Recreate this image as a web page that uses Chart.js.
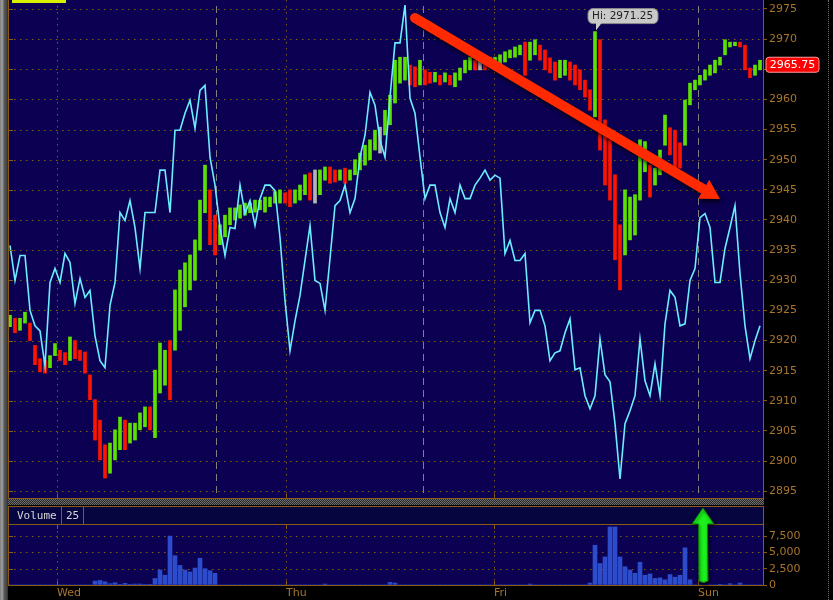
<!DOCTYPE html>
<html><head><meta charset="utf-8">
<script src="https://cdn.jsdelivr.net/npm/chart.js@4.4.1/dist/chart.umd.min.js"></script>
<style>
html,body{margin:0;padding:0;background:#000;width:833px;height:600px;overflow:hidden;}
#main{position:absolute;left:0;top:0;}
#vol{position:absolute;left:0;top:506px;}
#edge{position:absolute;left:0;top:0;width:8px;height:600px;background:linear-gradient(to right,#7c7c7c 0,#a0a0a0 2px,#8a8a8a 3px,#5a5a5a 4px,#4a4a4a 6px,#303030 8px);}
#sep{position:absolute;left:8px;top:499px;width:756px;height:6px;background:repeating-conic-gradient(#6a6a6a 0 25%,#2a2a2a 0 50%) 0 0/2px 2px;}
#rline{position:absolute;left:828px;top:0;height:600px;border-left:1px dotted #707070;}
</style></head>
<body>
<div id="edge"></div>
<div id="sep"></div>
<div id="rline"></div>
<canvas id="main" width="833" height="499"></canvas>
<canvas id="vol" width="833" height="94"></canvas>
<script>
// ---------- DATA ----------
const dayLabels = ['Wed', 'Thu', 'Fri', 'Sun'];
const dayPos = [9.4, 55.2, 96.8, 137.6];          // bar index of each day start
const sessionPos = [41.2, 82.6, 137.6];          // session breaks
const volumeTicks = [0, 2500, 5000, 7500];
const lastPrice = 2965.75;
const sessionHigh = 2971.25;

const highs = [
 2924.2,2923.7,2923.7,2924.7,2922.9,2919.2,2917.0,2916.7,2917.5,2919.5,
 2918.4,2918.0,2920.6,2920.0,2918.4,2918.1,2914.3,2910.2,2906.8,2902.7,
 2903.0,2905.2,2907.3,2906.8,2906.3,2906.3,2908.0,2909.0,2909.0,2915.1,
 2919.6,2918.4,2920.0,2928.4,2931.7,2932.9,2934.2,2936.7,2943.3,2949.1,
 2945.0,2940.8,2939.2,2940.8,2942.0,2942.0,2942.5,2942.8,2942.8,2943.3,
 2943.3,2943.8,2943.8,2944.7,2945.0,2944.5,2945.0,2945.0,2945.8,2947.5,
 2947.8,2948.3,2948.3,2948.8,2948.8,2948.3,2948.3,2948.6,2948.3,2950.0,
 2951.1,2952.4,2953.3,2954.9,2955.4,2958.2,2960.7,2966.5,2967.0,2967.0,
 2965.7,2965.4,2966.5,2964.9,2964.5,2964.5,2964.0,2964.4,2964.0,2964.4,
 2965.2,2966.5,2967.0,2966.5,2966.5,2966.2,2967.0,2967.0,2967.4,2967.9,
 2968.2,2968.7,2969.0,2969.5,2969.5,2969.9,2969.0,2968.2,2966.9,2966.2,
 2966.5,2966.5,2966.2,2965.7,2964.9,2963.2,2961.6,2971.25,2969.9,2956.6,
 2953.3,2947.5,2939.2,2945.0,2943.8,2944.2,2953.3,2953.0,2949.1,2948.6,
 2951.6,2957.4,2955.3,2954.9,2952.8,2959.9,2962.7,2963.2,2964.0,2964.9,
 2965.7,2966.5,2967.0,2969.9,2969.5,2969.5,2969.5,2969.0,2965.2,2965.7,2966.5
];
const lows = [
 2922.3,2921.3,2921.7,2922.9,2920.0,2916.0,2914.8,2914.6,2915.5,2917.5,
 2916.7,2916.0,2916.7,2917.0,2916.7,2914.6,2910.2,2903.5,2900.2,2897.2,
 2898.0,2900.2,2901.9,2901.9,2903.0,2903.5,2905.2,2905.7,2905.2,2903.9,
 2911.3,2912.6,2910.2,2918.4,2921.7,2925.6,2928.4,2930.0,2935.0,2941.2,
 2935.9,2934.2,2935.9,2937.2,2939.2,2940.0,2940.3,2940.8,2941.2,2941.3,
 2941.7,2941.3,2942.2,2942.8,2942.8,2942.8,2942.2,2942.8,2943.3,2944.2,
 2943.3,2942.8,2944.2,2946.6,2946.1,2946.3,2946.6,2946.1,2946.6,2947.5,
 2948.3,2949.1,2950.0,2951.6,2951.1,2954.1,2955.8,2959.4,2962.7,2963.2,
 2962.4,2962.1,2962.4,2962.4,2962.7,2962.9,2962.4,2962.9,2962.4,2962.1,
 2963.2,2964.4,2964.9,2964.9,2964.9,2964.9,2965.4,2965.5,2965.7,2966.2,
 2966.9,2967.0,2967.4,2964.0,2966.5,2967.4,2966.5,2964.9,2964.4,2963.2,
 2963.6,2964.0,2963.2,2962.4,2961.6,2960.4,2958.2,2957.1,2951.6,2945.8,
 2943.3,2933.4,2928.4,2934.2,2936.7,2937.5,2943.3,2948.0,2943.8,2945.8,
 2947.5,2952.4,2950.8,2948.3,2948.6,2952.4,2959.1,2961.6,2962.4,2963.2,
 2964.0,2964.4,2965.7,2967.4,2968.7,2968.9,2968.7,2964.9,2963.6,2964.0,2964.9
];
const oscillator = [
 50.8,43.8,48.8,48.8,37.8,34.7,33.7,26.7,43.4,46.2,
 43.4,49.2,47.4,39.2,44.2,40.4,41.8,32.7,27.7,26.3,
 38.8,43.4,57.4,55.8,59.8,54.4,46.2,57.4,57.4,57.4,
 65.9,65.9,57.4,73.9,73.9,77.3,79.9,74.3,81.9,82.9,
 68.5,62.9,54.4,48.8,54.4,54.2,62.9,57.2,59.8,54.8,
 60.2,62.9,62.9,61.8,52.4,39.8,29.7,35.7,40.8,47.8,
 54.8,43.8,43.2,37.8,48.2,58.8,59.8,62.9,57.4,60.2,
 68.5,72.9,81.5,78.9,71.9,68.5,80.5,91.4,91.4,99.0,
 80.3,77.3,68.5,60.2,62.9,62.9,57.4,54.4,60.2,57.4,
 62.9,60.2,60.2,62.9,64.3,65.9,63.9,64.9,64.3,49.2,
 51.8,47.8,47.8,49.2,35.3,37.8,37.8,34.7,27.7,29.3,
 29.7,33.3,36.1,25.9,26.3,20.7,18.1,20.7,32.1,24.9,
 23.5,15.1,4.0,15.1,17.7,20.7,32.1,23.7,20.7,27.1,
 20.7,35.1,41.8,40.4,34.7,35.1,43.8,46.2,56.4,57.2,
 54.4,43.4,43.4,50.2,54.4,58.8,45.2,34.7,28.1,31.7,34.7
];
const volume = [
 0,0,0,0,0,0,0,0,0,0,
 0,0,0,0,0,0,0,600,700,500,
 200,350,100,250,100,150,150,80,50,1000,
 2300,1500,7500,4500,3000,2300,2000,2600,4100,2500,
 2200,1800,0,0,0,0,0,0,0,0,
 0,0,0,0,0,0,0,0,0,0,
 0,0,0,150,0,0,0,0,0,0,
 0,0,0,0,0,0,400,300,0,0,
 0,0,0,0,0,0,0,0,0,0,
 0,0,0,0,0,0,0,0,0,0,
 0,0,0,0,150,0,0,0,0,0,
 0,0,0,0,0,0,300,6100,3300,4300,
 8900,8900,4300,2800,2300,1800,3500,1500,1700,1000,
 1100,800,1600,1200,1500,5700,800,0,0,0,
 0,0,100,0,200,0,300,0,0,0,0
];
const volumeTitle = 'Volume';
const volumeLength = '25';
const arrowFrom = {x: 81, y: 2973.5};
const arrowTo = {x: 142, y: 2943.5};
const upArrowX = 138.6;

// ---------- STYLE ----------
const NAVY = '#0b0052', HEADER = '#070540', BORDER = '#8a5a18', LABEL = '#a8742e', GRID = '#7c5a1c';
const UP = '#5ce000', DOWN = '#ff1400', FLAT = '#b4b4b4';
const FONT = {family: 'DejaVu Sans', size: 11};
const XMIN = -0.2, XMAX = 150.6;

const mids = highs.map((h, i) => (h + lows[i]) / 2);
const barColors = mids.map((m, i) => i === 0 ? UP : (m > mids[i - 1] ? UP : (m < mids[i - 1] ? DOWN : FLAT)));

function hline(ctx, x1, x2, y) { ctx.beginPath(); ctx.moveTo(x1, y); ctx.lineTo(x2, y); ctx.stroke(); }
function vline(ctx, x, y1, y2) { ctx.beginPath(); ctx.moveTo(x, y1); ctx.lineTo(x, y2); ctx.stroke(); }

const mainDecor = {
  id: 'mainDecor',
  beforeDraw(chart) {
    const {ctx, chartArea: a, scales: {x, y}} = chart;
    ctx.save();
    ctx.fillStyle = NAVY;
    ctx.fillRect(a.left, a.top, a.right - a.left, a.bottom - a.top);
    ctx.lineWidth = 1;
    ctx.strokeStyle = GRID;
    ctx.setLineDash([1.5, 4.5]);
    y.ticks.forEach(t => { const py = Math.round(y.getPixelForValue(t.value)) + 0.5; hline(ctx, a.left + 5, a.right, py); });
    dayPos.forEach((d, i) => { if (i === 3) return; const px = Math.round(x.getPixelForValue(d)) + 0.5; vline(ctx, px, a.top, a.bottom); });
    ctx.strokeStyle = '#808080';
    ctx.setLineDash([7, 5]);
    sessionPos.forEach(s => { const px = Math.round(x.getPixelForValue(s)) + 0.5; vline(ctx, px, a.top + 6, a.bottom); });
    ctx.restore();
  },
  afterDatasetsDraw(chart) {
    const {ctx, scales: {x, y}} = chart;
    const x1 = x.getPixelForValue(arrowFrom.x), y1 = y.getPixelForValue(arrowFrom.y);
    const x2 = x.getPixelForValue(arrowTo.x), y2 = y.getPixelForValue(arrowTo.y);
    const len = Math.hypot(x2 - x1, y2 - y1), ux = (x2 - x1) / len, uy = (y2 - y1) / len;
    const bx = x2 - ux * 19, by = y2 - uy * 19;
    ctx.save();
    ctx.shadowColor = 'rgba(0,0,0,0.75)'; ctx.shadowBlur = 4; ctx.shadowOffsetX = 2; ctx.shadowOffsetY = 3;
    ctx.strokeStyle = '#ff2a00'; ctx.lineWidth = 10; ctx.lineCap = 'round';
    ctx.beginPath(); ctx.moveTo(x1, y1); ctx.lineTo(bx + ux * 2, by + uy * 2); ctx.stroke();
    ctx.fillStyle = '#ff2a00';
    ctx.beginPath();
    ctx.moveTo(x2, y2);
    ctx.lineTo(bx - uy * 11, by + ux * 11);
    ctx.lineTo(bx + uy * 11, by - ux * 11);
    ctx.closePath(); ctx.fill();
    ctx.restore();
  },
  afterDraw(chart) {
    const {ctx, chartArea: a, scales: {x, y}} = chart;
    ctx.save();
    ctx.strokeStyle = BORDER; ctx.lineWidth = 1;
    vline(ctx, a.left - 0.5, 0, a.bottom);
    vline(ctx, a.right + 0.5, 0, a.bottom);
    hline(ctx, a.left - 1, a.right + 1, a.bottom - 0.5);
    y.ticks.forEach(t => { const py = Math.round(y.getPixelForValue(t.value)) + 0.5; hline(ctx, a.left, a.left + 4, py); });
    dayPos.forEach((d, i) => { if (i === 3) return; const px = Math.round(x.getPixelForValue(d)) + 0.5; vline(ctx, px, a.bottom - 5, a.bottom); });
    ctx.fillStyle = '#d6f000';
    ctx.fillRect(a.left + 3, 0, 54, 3);
    const iHi = highs.indexOf(Math.max(...highs));
    const px = x.getPixelForValue(iHi), py = y.getPixelForValue(highs[iHi]);
    const bl = px - 7, bt = py - 23, bw = 70, bh = 15;
    ctx.fillStyle = '#c9c9c9'; ctx.strokeStyle = '#8a8a8a';
    ctx.beginPath(); ctx.roundRect(bl, bt, bw, bh, 5); ctx.fill(); ctx.stroke();
    ctx.beginPath(); ctx.moveTo(px + 1, bt + bh - 1); ctx.lineTo(px + 7, bt + bh - 1); ctx.lineTo(px + 1, py - 1); ctx.closePath(); ctx.fill();
    ctx.fillStyle = '#1e1e1e'; ctx.font = '10.5px "DejaVu Sans"'; ctx.textBaseline = 'middle'; ctx.textAlign = 'left';
    ctx.fillText('Hi: ' + sessionHigh.toFixed(2), bl + 4, bt + bh / 2 + 0.5);
    const ly = y.getPixelForValue(lastPrice);
    ctx.fillStyle = '#ff0000'; ctx.strokeStyle = '#ff9a9a';
    ctx.beginPath(); ctx.roundRect(a.right + 3, ly - 7.5, 53, 15, 3); ctx.fill(); ctx.stroke();
    ctx.fillStyle = '#ffffff'; ctx.font = '11px "DejaVu Sans"'; ctx.textAlign = 'center';
    ctx.fillText(lastPrice.toFixed(2), a.right + 29.5, ly + 0.5);
    ctx.restore();
  }
};

new Chart(document.getElementById('main'), {
  type: 'bar',
  data: {
    datasets: [
      {type: 'line', data: oscillator.map((v, i) => ({x: i, y: v})), yAxisID: 'yc', borderColor: '#6aeeff', borderWidth: 1.6, pointRadius: 0, tension: 0, order: 0},
      {type: 'bar', data: highs.map((h, i) => ({x: i, y: [lows[i], h]})), yAxisID: 'y', backgroundColor: barColors, borderWidth: 0, barThickness: 3, order: 1}
    ]
  },
  options: {
    responsive: false, animation: false,
    layout: {padding: {left: 9, top: 0, right: 0, bottom: 0}},
    plugins: {legend: {display: false}, tooltip: {enabled: false}},
    scales: {
      x: {type: 'linear', min: XMIN, max: XMAX, offset: false, grid: {offset: false}, display: false},
      yc: {type: 'linear', min: 0, max: 100, display: false},
      y: {
        type: 'linear', position: 'right', min: 2893.72, max: 2976.49,
        ticks: {stepSize: 5, includeBounds: false, color: LABEL, font: FONT, padding: 2, callback: v => String(v)},
        grid: {drawOnChartArea: false, tickLength: 4, tickColor: BORDER},
        border: {display: false},
        afterFit(s) { s.width = 70; s.paddingTop = 0; s.paddingBottom = 0; }
      }
    }
  },
  plugins: [mainDecor]
});

const volDecor = {
  id: 'volDecor',
  beforeDraw(chart) {
    const {ctx, chartArea: a, scales: {x, y}} = chart;
    ctx.save();
    ctx.fillStyle = HEADER; ctx.fillRect(a.left, 0, a.right - a.left, a.top);
    ctx.fillStyle = NAVY; ctx.fillRect(a.left, a.top, a.right - a.left, a.bottom - a.top);
    ctx.strokeStyle = GRID; ctx.lineWidth = 1; ctx.setLineDash([1.5, 4.5]);
    y.ticks.forEach(t => { if (t.value === 0) return; const py = Math.round(y.getPixelForValue(t.value)) + 0.5; hline(ctx, a.left + 5, a.right, py); });
    dayPos.forEach(d => { const px = Math.round(x.getPixelForValue(d)) + 0.5; vline(ctx, px, a.top, a.bottom); });
    ctx.restore();
  },
  afterDraw(chart) {
    const {ctx, chartArea: a, scales: {x, y}} = chart;
    ctx.save();
    ctx.strokeStyle = BORDER; ctx.lineWidth = 1;
    hline(ctx, a.left - 1, a.right + 1, 0.5);
    hline(ctx, a.left - 1, a.right + 1, a.top - 0.5);
    hline(ctx, a.left - 1, a.right + 1, a.bottom + 0.5);
    vline(ctx, a.left - 0.5, 0, a.bottom + 1);
    vline(ctx, a.right + 0.5, 0, a.bottom + 1);
    vline(ctx, 61.5, 0, a.top);
    vline(ctx, 83.5, 0, a.top);
    y.ticks.forEach(t => { const py = Math.round(y.getPixelForValue(t.value)) + 0.5; hline(ctx, a.left, a.left + 4, py); });
    dayPos.forEach(d => { const px = Math.round(x.getPixelForValue(d)) + 0.5; vline(ctx, px, a.top, a.top + 4); vline(ctx, px, a.bottom - 4, a.bottom); });
    ctx.fillStyle = '#d6d6d6'; ctx.font = '11px "DejaVu Sans Mono"'; ctx.textBaseline = 'middle'; ctx.textAlign = 'left';
    ctx.fillText(volumeTitle, 17, a.top / 2 + 1);
    ctx.fillText(volumeLength, 66, a.top / 2 + 1);
    const gx = x.getPixelForValue(upArrowX);
    ctx.shadowColor = 'rgba(0,0,0,0.7)'; ctx.shadowBlur = 3; ctx.shadowOffsetX = 1; ctx.shadowOffsetY = 2;
    ctx.fillStyle = '#1cf01c'; ctx.strokeStyle = '#0a7a0a'; ctx.lineWidth = 1;
    ctx.beginPath();
    ctx.moveTo(gx, 2);
    ctx.lineTo(gx + 11, a.top - 1);
    ctx.lineTo(gx + 4.5, a.top - 1);
    ctx.lineTo(gx + 5, a.bottom - 4);
    ctx.quadraticCurveTo(gx + 0.5, a.bottom - 1, gx - 4, a.bottom - 4);
    ctx.lineTo(gx - 4.5, a.top - 1);
    ctx.lineTo(gx - 11, a.top - 1);
    ctx.closePath(); ctx.fill(); ctx.stroke();
    ctx.restore();
  }
};

new Chart(document.getElementById('vol'), {
  type: 'bar',
  data: {
    datasets: [{data: volume.map((v, i) => ({x: i, y: v})), backgroundColor: '#2c4ccb', borderWidth: 0, barThickness: 4}]
  },
  options: {
    responsive: false, animation: false,
    layout: {padding: {left: 9, top: 19, right: 0, bottom: 0}},
    plugins: {legend: {display: false}, tooltip: {enabled: false}},
    scales: {
      x: {
        type: 'linear', min: XMIN, max: XMAX, offset: false,
        afterBuildTicks(s) { s.ticks = dayPos.map(v => ({value: v})); },
        ticks: {align: 'start', autoSkip: false, maxRotation: 0, color: LABEL, font: FONT, padding: 2,
                callback: (v, i) => dayLabels[i]},
        grid: {display: false, drawTicks: false, offset: false}, border: {display: false},
        afterFit(s) { s.height = 15; s.paddingLeft = 0; s.paddingRight = 0; }
      },
      y: {
        type: 'linear', position: 'right', min: 0, max: 9200,
        afterBuildTicks(s) { s.ticks = volumeTicks.map(v => ({value: v})); },
        ticks: {autoSkip: false, color: LABEL, font: FONT, padding: 2,
                callback: v => v.toLocaleString('en-US')},
        grid: {drawOnChartArea: false, tickLength: 4, tickColor: BORDER},
        border: {display: false},
        afterFit(s) { s.width = 70; s.paddingTop = 0; s.paddingBottom = 0; }
      }
    }
  },
  plugins: [volDecor]
});
</script>
</body></html>
